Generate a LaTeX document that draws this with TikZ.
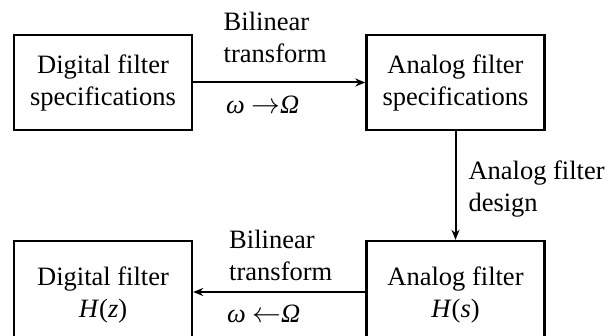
\documentclass[tikz,border=0pt]{standalone}
\usepackage{fontspec}
\setmainfont{Liberation Serif}
\usepackage{amsmath}
\usetikzlibrary{arrows.meta, positioning}

\tikzset{
    filterbox/.style={draw, line width=1.2pt, minimum width=89pt, minimum height=47.5pt, align=center, inner sep=0pt},
    flowarrow/.style={-{Stealth[length=5pt, width=4pt]}, line width=1pt},
    arrowlabel/.style={align=left, inner sep=0pt}
}

\begin{document}
\begin{tikzpicture}[x=0.5pt, y=-0.5pt, font=\fontsize{13.25pt}{16pt}\selectfont]
    % Page frame
    \clip (0,0) rectangle (612,336);
    \fill[white] (0,0) rectangle (612,336);

    % Boxes
    \node[filterbox] (dspec) at (103,82.5) {Digital filter\\specifications};
    \node[filterbox] (aspec) at (455.5,82.5) {Analog filter\\specifications};
    \node[filterbox, minimum height=54pt] (afilt) at (455.5,295) {Analog filter\\\textit{H}(\textit{s})};
    \node[filterbox, minimum height=54pt] (dfilt) at (103,295) {Digital filter\\\textit{H}(\textit{z})};

    % Top: digital -> analog specifications
    \draw[flowarrow] (dspec) -- (aspec)
        node[arrowlabel, midway, above=9.5pt, xshift=-2pt] {Bilinear\\transform}
        node[arrowlabel, midway, below=6pt, xshift=-8.25pt] {\textit{ω} $\rightarrow$\textit{Ω}};

    % Right: analog design
    \draw[flowarrow] (aspec) -- (afilt)
        node[arrowlabel, midway, right=6pt, yshift=-2pt] {Analog filter\\design};

    % Bottom: analog -> digital filter
    \draw[flowarrow] ([yshift=1.5pt]afilt.west) -- ([yshift=1.5pt]dfilt.east)
        node[arrowlabel, midway, above=5pt, xshift=0.75pt] {Bilinear\\transform}
        node[arrowlabel, midway, below=6pt, xshift=-7.75pt] {\textit{ω} $\leftarrow$\textit{Ω}};
\end{tikzpicture}
\end{document}
